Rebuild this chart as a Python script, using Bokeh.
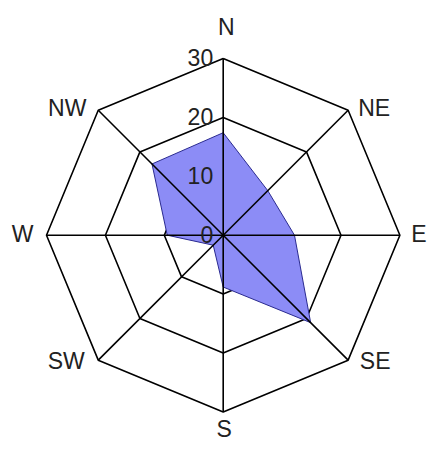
import numpy as np
from bokeh.plotting import figure
from bokeh.models import Range1d
from bokeh.core.properties import value
from bokeh.embed import file_html
from bokeh.resources import INLINE

# ---- data ----
directions = ["N", "NE", "E", "SE", "S", "SW", "W", "NW"]
values = [17.4, 10.7, 12.1, 21.0, 8.8, 2.4, 9.5, 17.1]
ring_levels = [10, 20, 30]
tick_values = [0, 10, 20, 30]
tick_labels = ["0", "10", "20", "30"]

# ---- style ----
PX = 5.89  # pixels per unit
W, H = 428, 449
CX, CY = 222.7, 234.7  # centre in figure pixels
lab_style = {
    "N": ("center", "middle", 3, -32),
    "NE": ("center", "middle", 26, -2),
    "E": ("center", "middle", 19, -1),
    "SE": ("center", "middle", 27, 1),
    "S": ("center", "middle", 1, 17),
    "SW": ("center", "middle", -32, 1),
    "W": ("center", "middle", -24, -1),
    "NW": ("center", "middle", -31, -2),
}
FONT = "Liberation Sans"
FS = "23px"

p = figure(width=W, height=H, output_backend="svg", toolbar_location=None,
           x_range=Range1d(-CX / PX, (W - CX) / PX),
           y_range=Range1d((CY - H) / PX, CY / PX),
           min_border=0)
p.axis.visible = False
p.grid.visible = False
p.outline_line_color = None
p.background_fill_color = "white"
p.border_fill_color = "white"

theta = np.deg2rad(np.arange(len(directions)) * 45.0)
sx, cy = np.sin(theta), np.cos(theta)

# rings
rx = [list(np.append(r * sx, r * sx[0])) for r in ring_levels]
ry = [list(np.append(r * cy, r * cy[0])) for r in ring_levels]
p.multi_line(rx, ry, line_color="black", line_width=1.6)

# data polygon
v = np.array(values)
p.patch(v * sx, v * cy, fill_color="#8c8cf6", fill_alpha=1.0,
        line_color="#2a2a90", line_width=1.0)

# spokes
rmax = max(ring_levels)
p.segment(x0=np.zeros(len(directions)), y0=np.zeros(len(directions)),
          x1=rmax * sx, y1=rmax * cy, line_color="black", line_width=1.6)

# radial tick labels
p.text(x=[0] * len(tick_values), y=tick_values, text=tick_labels,
       text_align="right", text_baseline="middle", x_offset=-10, y_offset=-1,
       text_font=value(FONT), text_font_size=FS, text_color="#222222")

# compass labels
for i, d in enumerate(directions):
    al, bl, xo, yo = lab_style[d]
    p.text(x=[rmax * sx[i]], y=[rmax * cy[i]], text=[d],
           text_align=al, text_baseline=bl, x_offset=xo, y_offset=yo,
           text_font=value(FONT), text_font_size=FS, text_color="#222222")

open("out.html", "w").write(file_html(p, INLINE))
